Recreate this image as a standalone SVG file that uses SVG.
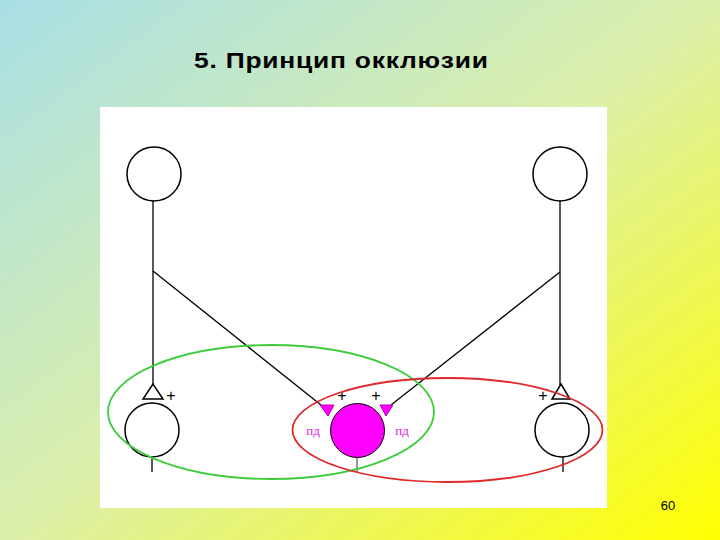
<svg xmlns="http://www.w3.org/2000/svg" width="720" height="540" viewBox="0 0 720 540">
<defs>
<linearGradient id="bg" x1="0" y1="0" x2="1" y2="1">
<stop offset="0" stop-color="#a8dfe6"/>
<stop offset="0.5" stop-color="#dcefaa"/>
<stop offset="1" stop-color="#ffff00"/>
</linearGradient>
<style>
.n{fill:#fff;stroke:#000;stroke-width:1.5}
.l{stroke:#000;stroke-width:1.3;fill:none}
.p{font-family:"Liberation Sans",Arial,sans-serif;font-size:16px;fill:#000}
.pd{font-family:"Liberation Serif","Times New Roman",serif;font-size:13px;fill:#e020e0}
.m{fill:#ff00ff;stroke:#b000b0;stroke-width:1}
</style>
</defs>
<rect width="720" height="540" fill="url(#bg)"/>
<text transform="translate(194,68) scale(1.2,1)" x="0" y="0" font-family="Liberation Sans,Arial,sans-serif" font-weight="bold" font-size="22" fill="#000" textLength="245" lengthAdjust="spacing">5. Принцип окклюзии</text>
<rect x="100" y="107" width="507" height="401" fill="#fff"/>
<g id="connectors">
<line class="l" x1="153" y1="201" x2="153" y2="385"/>
<line class="l" x1="153" y1="271" x2="321" y2="405"/>
<line class="l" x1="560" y1="201" x2="560" y2="385"/>
<line class="l" x1="560" y1="272" x2="391" y2="405"/>
<line class="l" x1="152" y1="457" x2="152" y2="472"/>
<line x1="357" y1="458" x2="357" y2="473" stroke="#777" stroke-width="1.5"/>
<line class="l" x1="563" y1="457" x2="563" y2="472"/>
</g>
<g id="top-left"><circle class="n" cx="154" cy="174" r="27"/></g>
<g id="top-right"><circle class="n" cx="560" cy="174" r="27"/></g>
<g id="bottom-left">
<polygon class="n" points="153,384 143,399 163,399"/>
<text class="p" x="171" y="401" text-anchor="middle">+</text>
<circle class="n" cx="152" cy="430" r="27"/>
</g>
<g id="bottom-right">
<polygon class="n" points="561,384 552,399 570,399"/>
<text class="p" x="543" y="401" text-anchor="middle">+</text>
<circle class="n" cx="562" cy="430" r="27"/>
</g>
<g id="middle">
<circle cx="357.5" cy="430.5" r="27" fill="#ff00ff" stroke="#000" stroke-width="1"/>
<polygon class="m" points="320,405 334,405 328,416"/>
<polygon class="m" points="380,405 393,405 386,416"/>
<text class="p" x="342" y="401" text-anchor="middle">+</text>
<text class="p" x="376" y="401" text-anchor="middle">+</text>
<text class="pd" x="313" y="435" text-anchor="middle">пд</text>
<text class="pd" x="402" y="435" text-anchor="middle">пд</text>
</g>
<g id="sets">
<ellipse cx="271" cy="412" rx="163" ry="67" fill="none" stroke="#3ccc3c" stroke-width="1.8"/>
<ellipse cx="447.5" cy="430" rx="155" ry="52" fill="none" stroke="#e02828" stroke-width="1.8"/>
</g>
<text x="668" y="510" font-family="Liberation Sans,Arial,sans-serif" font-size="13" fill="#000" text-anchor="middle">60</text>
</svg>
